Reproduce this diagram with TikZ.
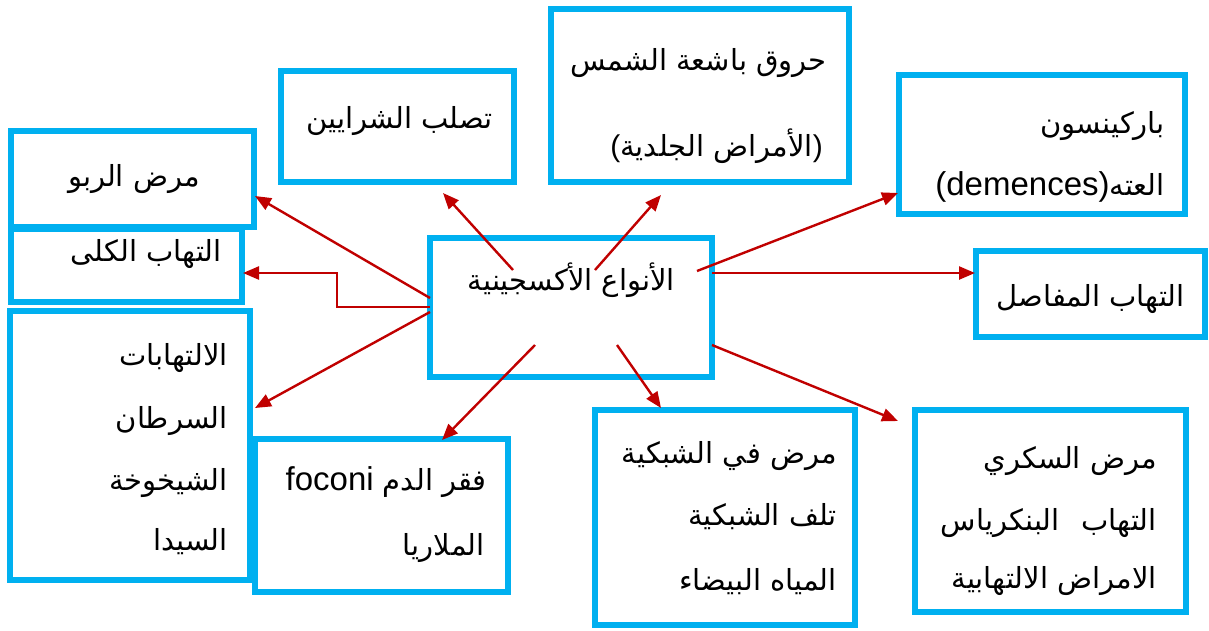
\documentclass[tikz,border=0pt]{standalone}
\usepackage{fontspec}
\setmainfont{Liberation Sans}
\newfontfamily\arabicfont[Script=Arabic]{DejaVu Sans}
\TeXXeTstate=1
\usetikzlibrary{arrows.meta,fit}
\definecolor{boxblue}{HTML}{00B0F0}
\definecolor{arrowred}{HTML}{C00000}
% Latin words inside the Arabic labels
\newcommand\latinword[1]{{\rmfamily\fontsize{33}{38}\selectfont #1}}
% brackets set outside the right-to-left run
\newcommand\latinparen[1]{{\rmfamily\fontsize{30}{34}\selectfont #1}}

\begin{document}
\begin{tikzpicture}[x=1pt,y=-1pt,
  box/.style={draw=boxblue,line width=5.5pt,fill=white,inner sep=0pt},
  txt/.style={anchor=east,inner sep=0pt,text height=22pt,text depth=7pt,
    font=\arabicfont\fontsize{29}{34}\selectfont},
  link/.style={draw=arrowred,line width=2.4pt,
    -{Triangle[length=16pt,width=13pt]}}]

\useasboundingbox (0,0) rectangle (1209,630);

% boxes
\node[box,fit={(11,131)(254,227)}] (asthma) {};
\node[box,fit={(11,229)(242,302)}] (kidney) {};
\node[box,fit={(10,311)(250,580)}] (misc) {};
\node[box,fit={(255,439)(508,592)}] (anemia) {};
\node[box,fit={(281,71)(514,182)}] (artery) {};
\node[box,fit={(551,9)(849,182)}] (skin) {};
\node[box,fit={(899,75)(1185,214)}] (parkinson) {};
\node[box,fit={(976,251)(1205,337)}] (joints) {};
\node[box,fit={(430,238)(712,377)}] (ros) {};
\node[box,fit={(595,410)(855,625)}] (retina) {};
\node[box,fit={(915,410)(1186,612)}] (diabetes) {};

% labels
\node[txt] (t1) at (200,179) {\beginR مرض الربو\endR};
\node[txt] (t2) at (222,254) {\beginR التهاب الكلى\endR};
\node[txt] (t3) at (228,358) {\beginR الالتهابات\endR};
\node[txt] (t4) at (228,421) {\beginR السرطان\endR};
\node[txt] (t5) at (228,483) {\beginR الشيخوخة\endR};
\node[txt] (t6) at (228,543) {\beginR السيدا\endR};
\node[txt] (t7) at (487,483) {\latinword{foconi} \beginR فقر الدم\endR};
\node[txt] (t8) at (485,548) {\beginR الملاريا\endR};
\node[txt] (t9) at (493,121) {\beginR تصلب الشرايين\endR};
\node[txt] (t10) at (827,63) {\beginR حروق باشعة الشمس\endR};
\node[txt] (t11) at (823,149) {\latinparen{(}\beginR الأمراض الجلدية\endR\latinparen{)}};
\node[txt] (t12) at (1165,126) {\beginR باركينسون\endR};
\node[txt] (t13) at (1165,188) {\latinword{(demences)}\beginR العته\endR};
\node[txt] (t14) at (1185,299) {\beginR التهاب المفاصل\endR};
\node[txt] (t15) at (675,283) {\beginR الأنواع الأكسجينية\endR};
\node[txt] (t16) at (837,456) {\beginR مرض في الشبكية\endR};
\node[txt] (t17) at (837,518) {\beginR تلف الشبكية\endR};
\node[txt] (t18) at (837,583) {\beginR المياه البيضاء\endR};
\node[txt] (t19) at (1157,461) {\beginR مرض السكري\endR};
\node[txt] (t20) at (1157,523) {\beginR التهاب\hspace{22pt}البنكرياس\endR};
\node[txt] (t21) at (1157,581) {\beginR الامراض الالتهابية\endR};

% arrow ends
\coordinate (sA) at (430,298); \coordinate (eA) at (255,196);
\coordinate (sB) at (430,307); \coordinate (kB1) at (337,307);
\coordinate (kB2) at (337,273); \coordinate (eB) at (243,273);
\coordinate (sC) at (430,312); \coordinate (eC) at (255,408);
\coordinate (sD) at (513,270); \coordinate (eD) at (443,193);
\coordinate (sE) at (595,270); \coordinate (eE) at (661,195);
\coordinate (sF) at (697,271); \coordinate (eF) at (898,193);
\coordinate (sG) at (712,273); \coordinate (eG) at (975,273);
\coordinate (sH) at (712,345); \coordinate (eH) at (898,421);
\coordinate (sI) at (617,345); \coordinate (eI) at (661,408);
\coordinate (sJ) at (535,345); \coordinate (eJ) at (442,440);

% arrows
\draw[link] (sA) -- (eA);
\draw[link] (sB) -- (kB1) -- (kB2) -- (eB);
\draw[link] (sC) -- (eC);
\draw[link] (sD) -- (eD);
\draw[link] (sE) -- (eE);
\draw[link] (sF) -- (eF);
\draw[link] (sG) -- (eG);
\draw[link] (sH) -- (eH);
\draw[link] (sI) -- (eI);
\draw[link] (sJ) -- (eJ);
\end{tikzpicture}
\end{document}
